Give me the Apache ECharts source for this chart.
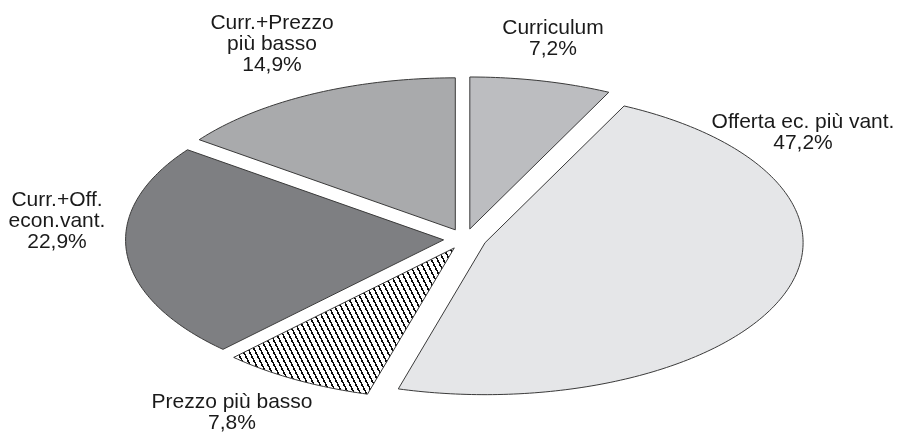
<!DOCTYPE html>
<html>
<head>
<meta charset="utf-8">
<script src="https://cdn.jsdelivr.net/npm/echarts@6/dist/echarts.min.js"></script>
<style>
html,body{margin:0;padding:0;background:#fff;}
#chart{width:899px;height:435px;}
</style>
</head>
<body>
<div id="chart"></div>
<script>
// ---- data ----
const categories = ['Curriculum', 'Offerta ec. più vant.', 'Prezzo più basso', 'Curr.+Off.\necon.vant.', 'Curr.+Prezzo\npiù basso'];
const values = [7.2, 47.2, 7.8, 22.9, 14.9];

// ---- layout / style ----
const geom = { cx: 465, cy: 239, rx: 318, ry: 152, explode: 21.5 };
const labelPos = [[553, 39], [803, 133], [232, 413], [57, 221], [272, 44]];
const fills = ['#bcbdc0', '#e5e6e8', 'HATCH', '#7e7f82', '#a9aaac'];

function makeHatch() {
  const c = document.createElement('canvas');
  c.width = 6; c.height = 12;
  const ctx = c.getContext('2d');
  ctx.fillStyle = '#ffffff';
  ctx.fillRect(0, 0, 6, 12);
  ctx.fillStyle = '#0a0a0a';
  for (let y = 0; y < 12; y++) {
    for (let x = 0; x < 6; x++) {
      const r = ((2 * x + (11 - y)) % 12 + 12) % 12;
      if (r < 4 && !(y % 4 === 3 && r < 2)) ctx.fillRect(x, y, 1, 1);
    }
  }
  return c;
}
const hatch = makeHatch();

const total = values.reduce((a, b) => a + b, 0);
const cumStart = [];
values.reduce((acc, v, i) => { cumStart[i] = acc; return acc + v; }, 0);

function fmt(v) { return v.toFixed(1).replace('.', ',') + '%'; }

const chart = echarts.init(document.getElementById('chart'), null, { renderer: 'canvas' });
chart.setOption({
  animation: false,
  backgroundColor: '#ffffff',
  series: [{
    type: 'custom',
    coordinateSystem: 'none',
    silent: true,
    data: values.map((v, i) => [i, v]),
    renderItem: function (params, api) {
      const i = api.value(0);
      const v = api.value(1);
      const a0 = Math.PI / 2 - cumStart[i] / total * 2 * Math.PI;
      const a1 = a0 - v / total * 2 * Math.PI;
      const mid = (a0 + a1) / 2;
      const k = geom.ry / geom.rx;
      const ox = geom.cx + geom.explode * Math.cos(mid);
      const oy = geom.cy - geom.explode * k * Math.sin(mid);
      const pts = [[ox, oy]];
      const n = Math.max(8, Math.ceil(Math.abs(a1 - a0) * 60));
      for (let s = 0; s <= n; s++) {
        const t = a0 + (a1 - a0) * s / n;
        pts.push([ox + geom.rx * Math.cos(t), oy - geom.ry * Math.sin(t)]);
      }
      const fill = fills[i] === 'HATCH' ? { image: hatch, repeat: 'repeat' } : fills[i];
      return {
        type: 'group',
        children: [
          {
            type: 'polygon',
            shape: { points: pts },
            style: { fill: fill, stroke: '#3a3a3a', lineWidth: 1 }
          },
          {
            type: 'text',
            style: {
              text: categories[i] + '\n' + fmt(v),
              x: labelPos[i][0],
              y: labelPos[i][1],
              align: 'center',
              verticalAlign: 'middle',
              fill: '#1a1a1a',
              fontSize: 21,
              fontFamily: '"Liberation Sans", Arial, sans-serif',
              lineHeight: 21
            }
          }
        ]
      };
    }
  }]
});
</script>
</body>
</html>
